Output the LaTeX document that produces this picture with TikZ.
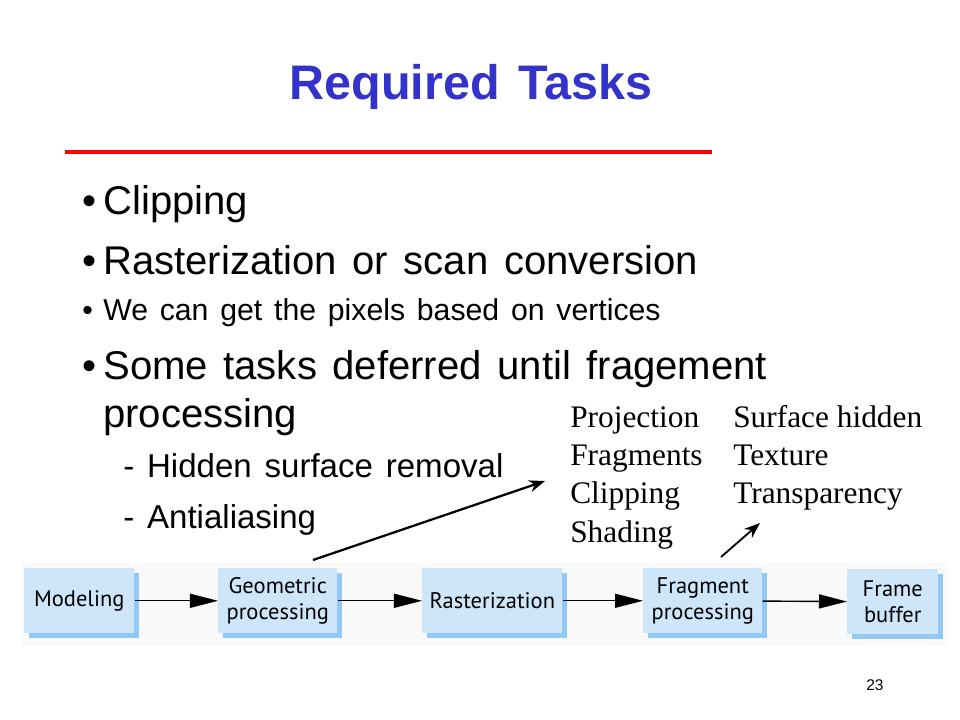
\documentclass[tikz,border=0pt]{standalone}
\usepackage{fontspec}
\setmainfont{Liberation Sans}[WordSpace=1.4]
\newfontfamily\listeserif{Liberation Serif}
\newfontfamily\boitefont{PT Sans}
\usetikzlibrary{arrows.meta,shadows}
\definecolor{titrebleu}{RGB}{51,51,204}
\definecolor{boitebleu}{RGB}{206,230,250}
\definecolor{ombrebleu}{RGB}{145,200,245}
\definecolor{bande}{RGB}{249,249,249}

\begin{document}
\begin{tikzpicture}
  [x=0.025cm, y=-0.025cm,
  texte/.style={
    anchor=base west,
    inner sep=0pt},
  grand/.style={
    texte,
    font=\fontsize{28.5}{34}\selectfont},
  moyen/.style={
    texte,
    font=\fontsize{23.5}{28}\selectfont},
  petit/.style={
    texte,
    font=\fontsize{21.5}{26}\selectfont},
  serif/.style={
    texte,
    font=\listeserif\fontsize{22.3}{26}\selectfont},
  etape/.style={
    fill=boitebleu,
    rectangle,
    inner sep=0pt,
    anchor=north west,
    align=center,
    minimum height=1.625cm,
    font=\boitefont\fontsize{16}{18.5}\selectfont,
    drop shadow={shadow xshift=0.125cm, shadow yshift=-0.125cm, fill=ombrebleu, opacity=1}},
  flux/.style={
    -{Triangle[length=0.7cm,width=0.35cm]},
    line width=1pt},
  renvoi/.style={
    -{Stealth[length=0.4cm,width=0.3cm]},
    line width=1.6pt}]

  \fill[white] (0,0) rectangle (960,720);
  \useasboundingbox (0,0) rectangle (960,720);

  \node [texte, anchor=base, text=titrebleu, font=\bfseries\fontsize{34.5}{40}\selectfont] (titre) at (471,100) {Required Tasks};
  \draw [red, line width=3.2pt] (65,152) -- (712,152);

  \node [grand] (puce1) at (82,215) {•};
  \node [grand] (clipping) at (103,215) {Clipping};
  \node [grand] (puce2) at (82,275) {•};
  \node [grand] (raster) at (103,275) {Rasterization or scan conversion};
  \node [petit] (puce3) at (82,321) {•};
  \node [petit] (pixels) at (103,321) {We can get the pixels based on vertices};
  \node [grand] (puce4) at (82,380) {•};
  \node [grand] (differe) at (103,380) {Some tasks deferred until fragement};
  \node [grand] (suite) at (103,428) {processing};
  \node [moyen] (cache) at (123,478) {- Hidden surface removal};
  \node [moyen] (anti) at (123,528) {- Antialiasing};

  \node [serif] (projection) at (570,428) {Projection};
  \node [serif] (fragments) at (570,466) {Fragments};
  \node [serif] (clip) at (570,504) {Clipping};
  \node [serif] (shading) at (570,542) {Shading};
  \node [serif] (surface) at (733,428) {Surface hidden};
  \node [serif] (texture) at (733,466) {Texture};
  \node [serif] (transp) at (733,504) {Transparency};

  \fill [bande] (22,562) rectangle (948,646);

  \node [etape, minimum width=2.75cm] (modeling) at (24,568) {Modeling};
  \node [etape, minimum width=2.975cm] (geometric) at (218,568) {Geometric\\processing};
  \node [etape, minimum width=3.5cm] (rasterization) at (422,568) {Rasterization};
  \node [etape, minimum width=2.975cm] (fragment) at (643,568) {Fragment\\processing};
  \node [etape, minimum width=2.275cm] (frame) at (847,569) {Frame\\buffer};

  \draw [flux] (modeling) -- (geometric);
  \draw [flux] (geometric) -- (rasterization);
  \draw [flux] (rasterization) -- (fragment);
  \draw [flux] (fragment) -- (frame);

  \coordinate (depart1) at (313,560);
  \coordinate (pointe1) at (545,481);
  \coordinate (depart2) at (721,557);
  \coordinate (pointe2) at (760,523);
  \draw [renvoi] (depart1) -- (pointe1);
  \draw [renvoi, line width=1.3pt] (depart2) -- (pointe2);

  \node [texte, font=\fontsize{11}{13}\selectfont] (numero) at (866,690) {23};
\end{tikzpicture}
\end{document}
